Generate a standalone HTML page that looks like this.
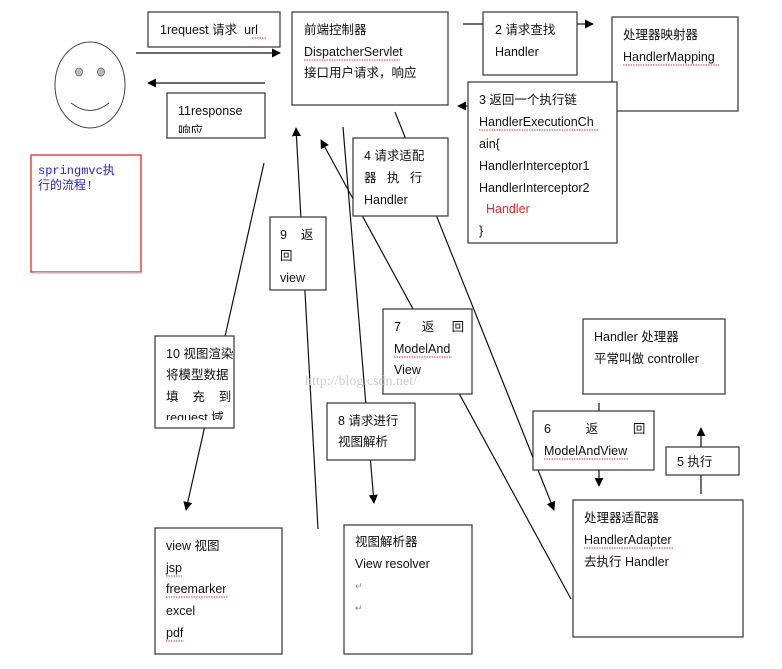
<!DOCTYPE html>
<html><head><meta charset="utf-8"><style>
html,body{margin:0;padding:0;background:#fff;}
svg{display:block;}
text{font-family:"Liberation Sans","Noto Sans CJK SC",sans-serif;font-size:12.5px;fill:#111;white-space:pre;}
.r{fill:#fff;stroke:#333;stroke-width:1.2;}
.l{stroke:#111;stroke-width:1.2;fill:none;}
.sq{stroke:#e33;stroke-width:1;stroke-dasharray:1.5 1;fill:none;}
</style></head><body>
<svg width="782" height="669" viewBox="0 0 782 669" xmlns="http://www.w3.org/2000/svg" xml:space="preserve">
<defs><marker id="a" viewBox="0 0 10 10" refX="9" refY="5" markerWidth="9" markerHeight="9" markerUnits="userSpaceOnUse" orient="auto"><path d="M0,0L10,5L0,10z" fill="#000"/></marker></defs>

<ellipse cx="90" cy="85" rx="35" ry="43" fill="#fff" stroke="#444" stroke-width="1"/>
<ellipse cx="79" cy="72" rx="3.5" ry="4" fill="#bbb" stroke="#666" stroke-width="0.8"/>
<ellipse cx="101" cy="72" rx="3.5" ry="4" fill="#bbb" stroke="#666" stroke-width="0.8"/>
<path d="M71,103 Q90,118 109,103" stroke="#444" stroke-width="1" fill="none"/>

<rect x="31" y="155" width="110" height="117" fill="#fff" stroke="#e44" stroke-width="1.5"/>
<line x1="33" y1="273" x2="142" y2="273" stroke="#ccc" stroke-width="1.5"/>
<text x="38" y="174" style="font-family:'Liberation Mono','Noto Sans CJK SC',monospace;fill:#22e;font-size:12px">springmvc执</text>
<text x="38" y="189" style="font-family:'Liberation Mono','Noto Sans CJK SC',monospace;fill:#22e;font-size:12px">行的流程!</text>

<line class="l" x1="136" y1="53" x2="280" y2="53" marker-end="url(#a)"/>
<line class="l" x1="265" y1="83" x2="148" y2="83" marker-end="url(#a)"/>
<line class="l" x1="463" y1="24" x2="484" y2="24"/>
<line class="l" x1="577" y1="24" x2="593" y2="24" marker-end="url(#a)"/>
<line class="l" x1="468" y1="106" x2="458" y2="106" marker-end="url(#a)"/>
<line class="l" x1="264" y1="163" x2="186" y2="510" marker-end="url(#a)"/>
<line class="l" x1="318" y1="529" x2="296" y2="128" marker-end="url(#a)"/>
<line class="l" x1="343" y1="127" x2="374" y2="503" marker-end="url(#a)"/>
<line class="l" x1="571" y1="599" x2="321" y2="140" marker-end="url(#a)"/>
<line class="l" x1="395" y1="112" x2="554" y2="510" marker-end="url(#a)"/>
<line class="l" x1="599" y1="403" x2="599" y2="412"/>
<line class="l" x1="599" y1="470" x2="599" y2="486" marker-end="url(#a)"/>
<line class="l" x1="701" y1="494" x2="701" y2="474"/>
<line class="l" x1="701" y1="448" x2="701" y2="428" marker-end="url(#a)"/>

<rect class="r" x="148" y="12" width="132" height="35"/>
<text x="160" y="34">1request 请求  url</text>
<path class="sq" d="M252,38h14"/>

<rect class="r" x="292" y="12" width="156" height="93"/>
<text x="304" y="34">前端控制器</text>
<text x="304" y="56">DispatcherServlet</text>
<path class="sq" d="M304,60h96"/>
<text x="304" y="77">接口用户请求，响应</text>

<rect class="r" x="167" y="93" width="98" height="45"/>
<text x="178" y="115">11response</text>
<text x="178" y="135">响应</text>
<rect x="168" y="133" width="96" height="4" fill="#fff"/>

<rect class="r" x="483" y="12" width="94" height="63"/>
<text x="495" y="34">2 请求查找</text>
<text x="495" y="56">Handler</text>

<rect class="r" x="612" y="17" width="126" height="94"/>
<text x="623" y="39">处理器映射器</text>
<text x="623" y="61">HandlerMapping</text>
<path class="sq" d="M623,65h96"/>

<rect class="r" x="468" y="82" width="149" height="161"/>
<text x="479" y="104">3 返回一个执行链</text>
<text x="479" y="126">HandlerExecutionCh</text>
<path class="sq" d="M479,130h120"/>
<text x="479" y="148">ain{</text>
<text x="479" y="170">HandlerInterceptor1</text>
<text x="479" y="192">HandlerInterceptor2</text>
<text x="486" y="213" style="fill:#f22">Handler</text>
<text x="479" y="235">}</text>

<rect class="r" x="353" y="138" width="95" height="78"/>
<text x="364" y="160">4 请求适配</text>
<text x="364" y="182">器   执   行</text>
<text x="364" y="204">Handler</text>

<rect class="r" x="270" y="217" width="56" height="73"/>
<text x="280" y="239">9    返</text>
<text x="280" y="260">回</text>
<text x="280" y="282">view</text>

<rect class="r" x="155" y="336" width="79" height="92"/>
<text x="166" y="358">10 视图渲染</text>
<text x="166" y="379">将模型数据</text>
<text x="166" y="401">填    充    到</text>
<text x="166" y="422">request 域</text>
<rect x="156" y="420" width="77" height="6" fill="#fff"/>

<rect class="r" x="383" y="309" width="89" height="85"/>
<text x="394" y="331">7      返     回</text>
<text x="394" y="353">ModelAnd</text>
<path class="sq" d="M394,357h58"/>
<text x="394" y="374">View</text>
<text x="305" y="385" style="fill:#ccc;font-family:'Liberation Serif',serif;font-size:14px">http://blog.csdn.net/</text>

<rect class="r" x="327" y="403" width="88" height="57"/>
<text x="338" y="425">8 请求进行</text>
<text x="338" y="446">视图解析</text>

<rect class="r" x="583" y="319" width="142" height="75"/>
<text x="594" y="341">Handler 处理器</text>
<text x="594" y="363">平常叫做 controller</text>

<rect class="r" x="533" y="411" width="121" height="59"/>
<text x="544" y="433">6          返          回</text>
<text x="544" y="455">ModelAndView</text>
<path class="sq" d="M544,459h84"/>

<rect class="r" x="666" y="447" width="73" height="28"/>
<text x="677" y="466">5 执行</text>

<rect class="r" x="155" y="528" width="127" height="126"/>
<text x="166" y="550">view 视图</text>
<text x="166" y="572">jsp</text>
<path class="sq" d="M166,576h16"/>
<text x="166" y="593">freemarker</text>
<path class="sq" d="M166,597h62"/>
<text x="166" y="615">excel</text>
<text x="166" y="637">pdf</text>
<path class="sq" d="M166,641h18"/>

<rect class="r" x="344" y="525" width="128" height="129"/>
<text x="355" y="546">视图解析器</text>
<text x="355" y="568">View resolver</text>
<text x="355" y="589" style="fill:#888;font-size:9px">↵</text>
<text x="355" y="611" style="fill:#888;font-size:9px">↵</text>

<rect class="r" x="573" y="500" width="170" height="137"/>
<text x="584" y="522">处理器适配器</text>
<text x="584" y="544">HandlerAdapter</text>
<path class="sq" d="M584,548h90"/>
<text x="584" y="566">去执行 Handler</text>
</svg>
</body></html>
